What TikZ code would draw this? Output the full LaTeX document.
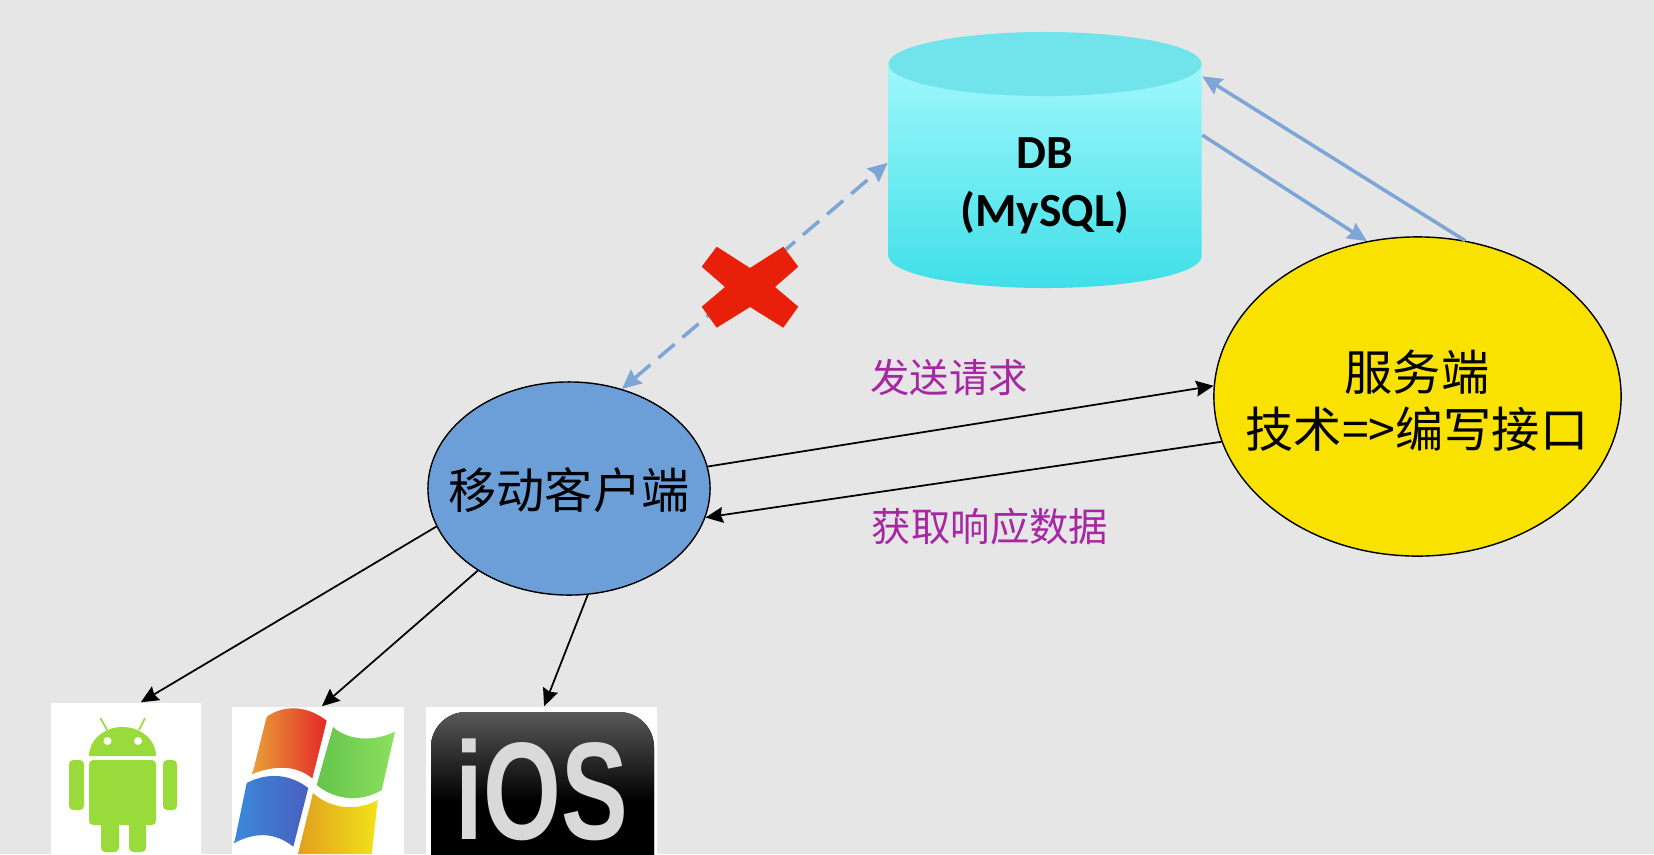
\documentclass[tikz,border=0pt]{standalone}
\usepackage{fontspec}
\usepackage[x11names,svgnames]{xcolor}
\usepackage{tikz}
\usetikzlibrary{shapes.geometric,arrows.meta}
\setmainfont{Carlito}
\newfontfamily\cjk{Noto Sans CJK SC}
\newfontfamily\iosfont{Liberation Sans}
\definecolor{bgcol}{HTML}{E6E6E6}
\definecolor{clientcol}{HTML}{6C9FD8}
\definecolor{servercol}{HTML}{FAE200}
\definecolor{linkcol}{HTML}{7DA5D6}
\definecolor{labelcol}{HTML}{A626A4}
\definecolor{droidcol}{HTML}{9ADB3C}
\definecolor{dbtop}{HTML}{9FF8FC}
\definecolor{dbbot}{HTML}{3FDFE8}
\definecolor{dbcap}{HTML}{70E4EA}
\definecolor{crosscol}{HTML}{E8200A}
\definecolor{flagredl}{HTML}{E8A038}
\definecolor{flagredm}{HTML}{F07828}
\definecolor{flagredr}{HTML}{E42828}
\definecolor{flaggreenl}{HTML}{64C44C}
\definecolor{flaggreenr}{HTML}{8CE05C}
\definecolor{flagbluel}{HTML}{3A8AD8}
\definecolor{flagbluem}{HTML}{8FC4EF}
\definecolor{flagbluer}{HTML}{4A5FC0}
\definecolor{flagyell}{HTML}{E0A020}
\definecolor{flagyelm}{HTML}{FBE600}
\definecolor{flagyelr}{HTML}{F2E218}
\tikzset{
  peer/.style={ellipse,draw=black,line width=.4pt,inner sep=0pt},
  peertext/.style={align=center,font=\cjk\fontsize{13.7}{16.2}\selectfont},
  msg/.style={->,>={Stealth[length=5pt,width=4.5pt,inset=.6pt]},line width=.5pt,black},
  link/.style={line width=1pt,linkcol,>={Stealth[length=5.5pt,width=5pt,inset=.6pt]}},
  tag/.style={text=labelcol,font=\cjk\fontsize{11.2}{13}\selectfont},
  iconbox/.style={fill=white,inner sep=0pt},
  droid/.style={fill=droidcol,rounded corners=1.2pt},
}
\begin{document}
\begin{tikzpicture}[x=.01cm,y=-.01cm]
  \useasboundingbox (0,0) rectangle (1654,854);
  \fill [bgcol] (0,0) rectangle (1654,854);

  \shade [top color=dbtop,bottom color=dbbot] (888.5,64) -- (888.5,256)
    arc [start angle=180,end angle=360,x radius=1.565cm,y radius=.32cm] -- (1201.5,64) -- cycle;
  \fill [dbcap] (1045,64) ellipse [x radius=1.565cm,y radius=.32cm];
  \node [inner sep=0pt,minimum width=3.13cm,minimum height=2.56cm] (db) at (1045,160) {};
  \node [align=center,font=\fontsize{13.5}{16.4}\selectfont\bfseries] (dbtext) at (1045,186) {DB\\(MySQL)};

  \node [peer,fill=clientcol,minimum width=2.82cm,minimum height=2.13cm] (client) at (569,488.5) {};
  \node [peertext] (clienttext) at (569,490) {移动客户端};
  \node [peer,fill=servercol,minimum width=4.07cm,minimum height=3.19cm] (server) at (1417.5,396.5) {};
  \node [peertext] (servertext) at (1417,401) {服务端\\技术=>编写接口};

  \node [iconbox,minimum width=1.50cm,minimum height=1.51cm] (android) at (126,778.5) {};
  \node [iconbox,minimum width=1.72cm,minimum height=1.47cm] (windows) at (318,780.5) {};
  \node [iconbox,minimum width=2.31cm,minimum height=1.47cm] (ios) at (541.5,780.5) {};

  \draw [msg] (client.9.7) -- (server.177.8);
  \draw [msg] (server.193) -- (client.-12.5);
  \draw [msg] (client.196.5) -- (android.79.5);
  \draw [msg] (client.222.9) -- (windows.87);
  \draw [msg] (client.280.5) -- (ios.88);

  \draw [link,<->,dashed,dash pattern=on 6pt off 3pt] (client.62.7) -- (db.181);
  \draw [link,->] (db.9.8) -- (server.108.9);
  \draw [link,->] (server.73.1) -- (db.28.2);

  \fill [crosscol] (716.7,246.7) -- (750,268) -- (783.3,246.7) -- (798.3,266.7) -- (775,287) -- (798.3,306.7)
    -- (783.3,327.7) -- (750,307) -- (716.7,327.7) -- (701.7,306.7) -- (725,287) -- (701.7,266.7) -- cycle;

  \node [tag] (send) at (949,378) {发送请求};
  \node [tag] (fetch) at (990,527) {获取响应数据};

  \fill [droid] (89,760) rectangle (156,825);
  \fill [droidcol] (89,756) arc [start angle=180,end angle=0,x radius=.335cm,y radius=.29cm] -- cycle;
  \fill [droid] (69,760) rectangle (84,810);
  \fill [droid] (163,760) rectangle (177,810);
  \fill [droid] (101,815) rectangle (119,852);
  \fill [droid] (129,815) rectangle (146,852);
  \draw [droidcol,line width=.5pt] (100.5,718) -- (107,730);
  \draw [droidcol,line width=.5pt] (145,718) -- (139,730);
  \fill [white] (107.5,741) circle [radius=.04cm];
  \fill [white] (138,741) circle [radius=.04cm];

  \shade [left color=flagredl,middle color=flagredm,right color=flagredr] (266.7,716.7) .. controls (285,704) and (308,706) .. (326.7,720.7)
    -- (312.3,778.3) .. controls (295,764) and (272,766) .. (252.3,774) -- cycle;
  \shade [left color=flaggreenl,right color=flaggreenr] (333,727) .. controls (350,742) and (376,741) .. (395,731.7)
    -- (381.7,790) .. controls (362,802) and (336,801) .. (316.7,785) -- cycle;
  \shade [left color=flagbluel,middle color=flagbluem,right color=flagbluer] (246.7,783) .. controls (268,772) and (290,774) .. (308.3,788)
    -- (293.3,846.7) .. controls (275,832) and (255,832) .. (234.3,843) -- cycle;
  \shade [left color=flagyell,middle color=flagyelm,right color=flagyelr] (313,793) .. controls (332,810) and (358,811) .. (377.7,800)
    -- (371.7,854) -- (298,854) -- cycle;

  \fill [rounded corners=.35cm,top color=Gray!70!black,bottom color=black,middle color=black] (431,712) rectangle (654,890);
  \node [text=Gray!30!white,xscale=.72,font=\iosfont\bfseries\fontsize{39.5}{40}\selectfont] (iostext) at (542,790) {iOS};
\end{tikzpicture}
\end{document}
